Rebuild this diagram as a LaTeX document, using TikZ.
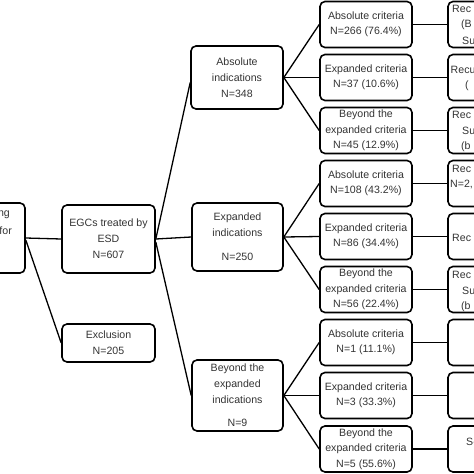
\documentclass[tikz,border=0pt]{standalone}
\usepackage{fontspec}
\setmainfont{Liberation Sans}
\tikzset{
	box/.style={shape=rectangle, draw, rounded corners=5pt, line width=1.6pt, align=center, inner sep=0pt, text=black!80},
	crit/.style={box, minimum width=92pt, minimum height=46pt},
	frag/.style={anchor=west, inner sep=0pt, text=black!80},
	link/.style={line width=1.3pt}
}
\begin{document}
\begin{tikzpicture}[x=1pt, y=-1pt, font=\fontsize{10.6}{16}\selectfont]
	\useasboundingbox (0, 0) rectangle (474, 474);
	\clip (0, 0) rectangle (474, 474);
	% Boxes:
	\node[box, minimum width=85pt, minimum height=70pt] (start) at (-17.5, 238){};
	\node[anchor=east, inner sep=0pt, text=black!80] (startA) at (10, 215){ng};
	\node[anchor=east, inner sep=0pt, text=black!80] (startB) at (12, 231){for};
	\node[box, minimum width=93pt, minimum height=68pt] (egc) at (108.5, 239){EGCs treated by\\ESD\\N=607};
	\node[box, minimum width=93pt, minimum height=38pt] (excl) at (108.5, 343){Exclusion\\N=205};
	\node[box, minimum width=92pt, minimum height=63pt] (absind) at (237, 77.5){Absolute\\indications\\N=348};
	\node[box, minimum width=91pt, minimum height=68pt] (expind) at (237.5, 237){Expanded\\indications\\[8pt]N=250};
	\node[box, minimum width=91pt, minimum height=71pt] (beyind) at (237.5, 395.5){Beyond the\\expanded\\indications\\[7pt]N=9};
	% Criteria:
	\begin{scope}[font=\fontsize{10.6}{15.5}\selectfont]
		\node[crit] (abs1) at (366, 24.5){Absolute criteria\\N=266 (76.4\%)};
		\node[crit] (exp1) at (366, 77.5){Expanded criteria\\N=37 (10.6\%)};
		\node[crit] (bey1) at (366, 130.5){Beyond the\\expanded criteria\\N=45 (12.9\%)};
		\node[crit] (abs2) at (366, 183.5){Absolute criteria\\N=108 (43.2\%)};
		\node[crit] (exp2) at (366, 236.5){Expanded criteria\\N=86 (34.4\%)};
		\node[crit] (bey2) at (366, 289.5){Beyond the\\expanded criteria\\N=56 (22.4\%)};
		\node[crit] (abs3) at (366, 342.5){Absolute criteria\\N=1 (11.1\%)};
		\node[crit] (exp3) at (366, 395.5){Expanded criteria\\N=3 (33.3\%)};
		\node[crit] (bey3) at (366, 449){Beyond the\\expanded criteria\\N=5 (55.6\%)};
	\end{scope}
	% Outcomes:
	\foreach \n/\y in {r1/24.5, r2/77.5, r3/130.5, r4/183.5, r5/236.5, r6/289.5, r7/342.5, r8/395.5, r9/449}
		\node[crit] (\n) at (494, \y){};
	\node[frag] (r1a) at (452, 9){Rec};
	\node[frag] (r1b) at (461, 25){(B};
	\node[frag] (r1c) at (462, 41){Su};
	\node[frag] (r2a) at (450.5, 70){Recu};
	\node[frag] (r2b) at (465, 86){(};
	\node[frag] (r3a) at (452, 115){Rec};
	\node[frag] (r3b) at (462, 131){Su};
	\node[frag] (r3c) at (461, 147){(b};
	\node[frag] (r4a) at (452, 169){Rec};
	\node[frag] (r4b) at (450, 184){N=2,};
	\node[frag] (r5a) at (452, 238){Rec};
	\node[frag] (r6a) at (452, 275){Rec};
	\node[frag] (r6b) at (462, 291){Su};
	\node[frag] (r6c) at (461, 307){(b};
	\node[frag] (r9a) at (466, 442){S-};
	% Wires:
	\draw[link] (start.east) -- (egc.west);
	\draw[link] ([yshift=-2pt]start.east) -- (excl.west);
	\draw[link] (egc.east) -- ([yshift=-5pt]absind.west);
	\draw[link] (egc.east) -- (expind.west);
	\draw[link] ([yshift=-3pt]egc.east) -- (beyind.west);
	\foreach \i/\a/\b/\c in {absind/abs1/exp1/bey1, expind/abs2/exp2/bey2, beyind/abs3/exp3/bey3}{
		\draw[link] (\i.east) -- (\a.west);
		\draw[link] (\i.east) -- (\b.west);
		\draw[link] (\i.east) -- (\c.west);
	}
	\foreach \a/\b in {abs1/r1, exp1/r2, bey1/r3, abs2/r4, exp2/r5, bey2/r6, abs3/r7, exp3/r8, bey3/r9}
		\draw[link] (\a.east) -- (\b.west);
\end{tikzpicture}
\end{document}
